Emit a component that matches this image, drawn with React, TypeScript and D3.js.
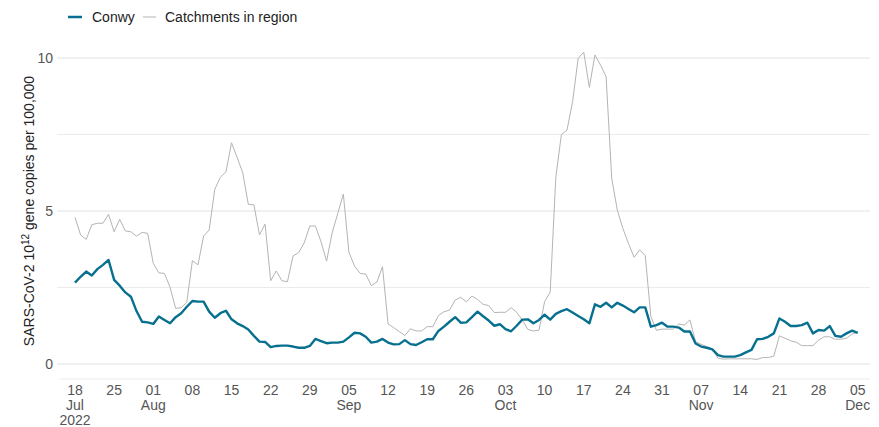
import * as d3 from "d3";

// daily values from 18 Jul 2022 to 05 Dec 2022
const startDate = new Date(Date.UTC(2022, 6, 18));
const endDate = new Date(Date.UTC(2022, 11, 5));

const conwyValues = [
  2.66, 2.85, 3.02, 2.89, 3.10, 3.24, 3.40, 2.75, 2.56, 2.34,
  2.20, 1.73, 1.38, 1.36, 1.31, 1.55, 1.44, 1.33, 1.53, 1.66,
  1.87, 2.06, 2.04, 2.04, 1.71, 1.51, 1.66, 1.74, 1.46, 1.33,
  1.24, 1.13, 0.92, 0.73, 0.72, 0.55, 0.59, 0.60, 0.60, 0.57,
  0.53, 0.53, 0.59, 0.82, 0.75, 0.68, 0.70, 0.70, 0.73, 0.87,
  1.02, 1.00, 0.89, 0.70, 0.73, 0.82, 0.70, 0.64, 0.65, 0.78,
  0.65, 0.62, 0.71, 0.81, 0.81, 1.08, 1.22, 1.38, 1.53, 1.35,
  1.36, 1.53, 1.71, 1.56, 1.42, 1.25, 1.30, 1.14, 1.07, 1.25,
  1.45, 1.46, 1.33, 1.44, 1.61, 1.45, 1.64, 1.73, 1.79, 1.68,
  1.57, 1.46, 1.33, 1.95, 1.87, 2.00, 1.85, 2.00, 1.91, 1.80,
  1.69, 1.85, 1.85, 1.22, 1.27, 1.35, 1.22, 1.22, 1.19, 1.06,
  1.06, 0.67, 0.57, 0.53, 0.48, 0.29, 0.24, 0.24, 0.24, 0.29,
  0.38, 0.46, 0.81, 0.82, 0.89, 1.00, 1.49, 1.38, 1.24, 1.24,
  1.27, 1.35, 1.00, 1.11, 1.09, 1.24, 0.92, 0.89, 1.00, 1.09, 1.02,
];

const catchmentValues = [
  4.79, 4.22, 4.07, 4.55, 4.60, 4.60, 4.89, 4.32, 4.73, 4.35,
  4.32, 4.18, 4.30, 4.27, 3.29, 2.98, 2.96, 2.51, 1.82, 1.84,
  2.02, 3.38, 3.24, 4.18, 4.38, 5.71, 6.10, 6.28, 7.23, 6.75,
  6.25, 5.22, 5.20, 4.22, 4.57, 2.72, 3.04, 2.72, 2.69, 3.53,
  3.64, 3.96, 4.51, 4.51, 4.00, 3.36, 4.29, 4.92, 5.55, 3.65,
  3.20, 2.96, 2.94, 2.56, 2.68, 3.18, 1.31, 1.19, 1.06, 0.93,
  1.15, 1.08, 1.08, 1.22, 1.22, 1.58, 1.71, 1.76, 2.09, 2.18,
  2.03, 2.22, 2.11, 1.95, 1.91, 1.68, 1.69, 1.69, 1.84, 1.69,
  1.44, 1.13, 1.08, 1.11, 2.04, 2.35, 6.10, 7.50, 7.64, 8.57,
  9.99, 10.19, 9.04, 10.10, 9.77, 9.39, 6.07, 5.03, 4.43, 3.94,
  3.49, 3.73, 3.54, 1.55, 1.10, 1.14, 1.14, 1.14, 1.31, 1.27,
  1.44, 0.73, 0.64, 0.57, 0.49, 0.19, 0.16, 0.17, 0.17, 0.17,
  0.17, 0.17, 0.15, 0.21, 0.21, 0.26, 0.92, 0.84, 0.76, 0.71,
  0.60, 0.60, 0.60, 0.78, 0.89, 0.89, 0.81, 0.81, 0.84, 0.98, 1.04,
];

const yTicks = [0, 5, 10];
const yMinorTicks = [2.5, 7.5];
const seriesNames = ["Conwy", "Catchments in region"];

const W = 879;
const H = 427;
const FONT = "'Liberation Sans', Arial, Helvetica, sans-serif";
const BLUE = "#08708f";
const GREY = "#b4b4b4";
const FS = 14;

type Pt = { date: Date; value: number };
const toPts = (vals: number[]): Pt[] =>
  vals.map((v, i) => ({ date: d3.utcDay.offset(startDate, i), value: v }));

export default function App() {
  const x = d3.scaleUtc().domain([startDate, endDate]).range([75, 857.7]);
  const y = d3.scaleLinear().domain([0, 10]).range([364, 58]);
  const panelLeft = 57;
  const panelRight = 870;
  const axisY = y(-0.49);

  const line = d3
    .line<Pt>()
    .x((d) => x(d.date))
    .y((d) => y(d.value));

  const conwy = toPts(conwyValues);
  const catchments = toPts(catchmentValues);

  const xTicks = d3.utcMonday.range(startDate, d3.utcDay.offset(endDate, 1));
  let prevMonth = -1;

  return (
    <div style={{ position: "fixed", left: 0, top: 0 }}>
      <svg width={W} height={H} style={{ display: "block", background: "#fff" }} fontFamily={FONT}>
        {/* gridlines */}
        {yMinorTicks.map((t) => (
          <line key={"m" + t} x1={panelLeft} x2={panelRight} y1={y(t)} y2={y(t)} stroke="#ebebeb" strokeWidth={1} />
        ))}
        {yTicks.map((t) => (
          <line key={"g" + t} x1={panelLeft} x2={panelRight} y1={y(t)} y2={y(t)} stroke="#e2e2e2" strokeWidth={1} />
        ))}
        <line x1={panelLeft + 3} x2={panelRight} y1={axisY} y2={axisY} stroke="#ebebeb" strokeWidth={1} />

        {/* y labels */}
        {yTicks.map((t) => (
          <text key={"yl" + t} x={53} y={y(t)} dy="0.35em" textAnchor="end" fontSize={FS} fill="#555">
            {t}
          </text>
        ))}
        <text
          transform={`translate(34,${y(5)}) rotate(-90)`}
          textAnchor="middle"
          fontSize={FS}
          fill="#222"
        >
          SARS-CoV-2 10<tspan dy="-5" fontSize={10}>12</tspan>
          <tspan dy="5"> gene copies per 100,000</tspan>
        </text>

        {/* x labels */}
        {xTicks.map((t, i) => {
          const m = t.getUTCMonth();
          const showMonth = m !== prevMonth;
          prevMonth = m;
          const tx = x(t);
          return (
            <g key={"xt" + i} fontSize={FS} fill="#555" textAnchor="middle">
              <text x={tx} y={395}>{d3.utcFormat("%d")(t)}</text>
              {showMonth && <text x={tx} y={410}>{d3.utcFormat("%b")(t)}</text>}
              {i === 0 && <text x={tx} y={425}>{d3.utcFormat("%Y")(t)}</text>}
            </g>
          );
        })}

        {/* series */}
        <path d={line(catchments) ?? ""} fill="none" stroke={GREY} strokeWidth={1} strokeLinejoin="round" />
        <path d={line(conwy) ?? ""} fill="none" stroke={BLUE} strokeWidth={2.4} strokeLinejoin="round" />

        {/* legend */}
        <g fontSize={FS} fill="#222">
          <line x1={68} x2={82} y1={17} y2={17} stroke={BLUE} strokeWidth={2.5} />
          <text x={92} y={17} dy="0.35em">{seriesNames[0]}</text>
          <line x1={143} x2={156} y1={17} y2={17} stroke={GREY} strokeWidth={1} />
          <text x={165} y={17} dy="0.35em">{seriesNames[1]}</text>
        </g>
      </svg>
    </div>
  );
}
